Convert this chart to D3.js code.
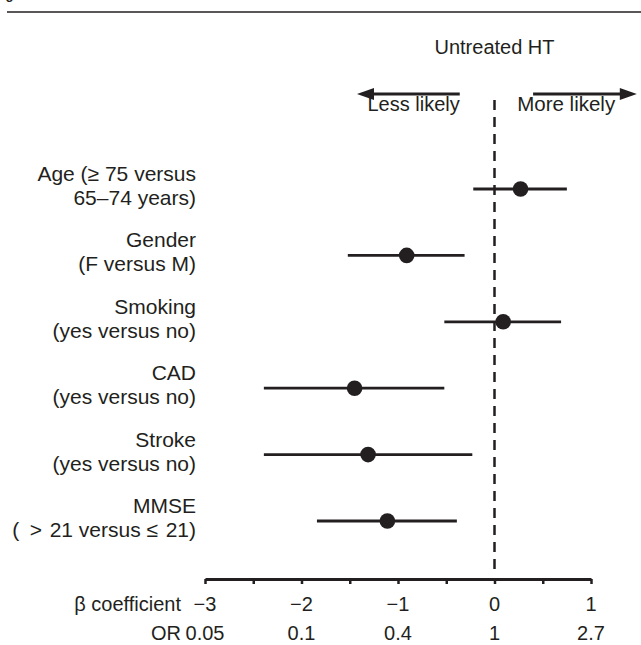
<!DOCTYPE html>
<html>
<head>
<meta http-equiv="Content-type" content="text/html; charset=utf-8">
<title>Untreated HT forest plot</title>
<script src="https://cdn.jsdelivr.net/npm/d3@7/dist/d3.min.js"></script>
<style>
  html, body { margin: 0; padding: 0; background: #fff; }
  svg text { font-family: "Liberation Sans", Arial, sans-serif; fill: #231f20; }
</style>
</head>
<body>
<script type="text/javascript">

// DATA
var labelLine1 = ["Age (\u2265 75 versus", "Gender", "Smoking", "CAD", "Stroke", "MMSE"];
var labelLine2 = ["65\u201374 years)", "(F versus M)", "(yes versus no)", "(yes versus no)", "(yes versus no)", "(\u2002>\u200a 21 versus \u2264\u200a 21)"];
var beta  = [0.27, -0.91, 0.09, -1.45, -1.31, -1.11];
var lower = [-0.22, -1.52, -0.52, -2.39, -2.39, -1.84];
var upper = [0.75, -0.31, 0.69, -0.52, -0.23, -0.39];
var betaTicks = [-3, -2, -1, 0, 1];
var orLabels = ["0.05", "0.1", "0.4", "1", "2.7"];

var W = 641, H = 645;
var ink = "#231f20";

var svg = d3.select("body").append("svg")
  .attr("width", W).attr("height", H);

// SCALES
var x = d3.scaleLinear().domain([-3, 1]).range([205, 591]);
var y = d3.scalePoint().domain(d3.range(beta.length)).range([189, 521]);
var axisY = 579;

// header rule + cut-off caption
svg.append("line")
  .attr("x1", 7).attr("x2", W).attr("y1", 12).attr("y2", 12)
  .attr("stroke", ink).attr("stroke-width", 1.3);
svg.append("text")
  .attr("x", -6).attr("y", -1)
  .style("font-size", "13px").style("font-weight", "bold")
  .text("Fig. 2");

// title + direction arrows
svg.append("text")
  .attr("x", x(0)).attr("y", 54)
  .attr("text-anchor", "middle")
  .style("font-size", "20px")
  .text("Untreated HT");

function arrow(from, to) {
  var x0 = x(from), x1 = x(to), dir = x1 > x0 ? 1 : -1, ay = 94;
  svg.append("line")
    .attr("x1", x0).attr("x2", x1 - dir * 12).attr("y1", ay).attr("y2", ay)
    .attr("stroke", ink).attr("stroke-width", 3);
  svg.append("path")
    .attr("d", "M" + x1 + "," + ay + "L" + (x1 - dir * 17) + "," + (ay - 6) + "L" + (x1 - dir * 17) + "," + (ay + 6) + "Z")
    .attr("fill", ink);
}
arrow(-0.36, -1.425);
arrow(0.40, 1.475);

svg.append("text")
  .attr("x", x(-0.36)).attr("y", 111)
  .attr("text-anchor", "end")
  .style("font-size", "20px")
  .text("Less likely");
svg.append("text")
  .attr("x", x(0.235)).attr("y", 111)
  .attr("text-anchor", "start")
  .style("font-size", "20.5px")
  .text("More likely");

// reference line at beta = 0
svg.append("line")
  .attr("x1", x(0)).attr("x2", x(0)).attr("y1", 100).attr("y2", axisY - 3)
  .attr("stroke", ink).attr("stroke-width", 2.5)
  .attr("stroke-dasharray", "10,7");

// row labels
var rows = svg.selectAll(".row")
  .data(beta.map(function (b, i) { return i; }))
  .enter().append("g").attr("class", "row");

rows.append("text")
  .attr("x", 196).attr("y", function (i) { return y(i) - 8; })
  .attr("text-anchor", "end")
  .style("font-size", "21px")
  .text(function (i) { return labelLine1[i]; });
rows.append("text")
  .attr("x", 196).attr("y", function (i) { return y(i) + 16; })
  .attr("text-anchor", "end")
  .style("font-size", "21px")
  .text(function (i) { return labelLine2[i]; });

// CI lines + points
rows.append("line")
  .attr("x1", function (i) { return x(lower[i]); })
  .attr("x2", function (i) { return x(upper[i]); })
  .attr("y1", function (i) { return y(i); })
  .attr("y2", function (i) { return y(i); })
  .attr("stroke", ink).attr("stroke-width", 2.8);
rows.append("circle")
  .attr("cx", function (i) { return x(beta[i]); })
  .attr("cy", function (i) { return y(i); })
  .attr("r", 7.8)
  .attr("fill", ink);

// AXIS
var axis = d3.axisBottom(x)
  .tickValues(d3.range(-3, 1.01, 0.5))
  .tickSize(5).tickSizeOuter(0)
  .tickFormat("");
var gAxis = svg.append("g")
  .attr("transform", "translate(0," + axisY + ")")
  .call(axis);
gAxis.select(".domain").attr("stroke", ink).attr("stroke-width", 2.8);
gAxis.selectAll(".tick line").attr("stroke", ink).attr("stroke-width", 2.5);

var fmt = d3.format("d");
svg.selectAll(".blabel")
  .data(betaTicks)
  .enter().append("text")
  .attr("class", "blabel")
  .attr("x", function (d) { return x(d); })
  .attr("y", 611)
  .attr("text-anchor", "middle")
  .style("font-size", "20px")
  .text(function (d) { return d < 0 ? "\u2212" + fmt(-d) : fmt(d); });

svg.selectAll(".orlabel")
  .data(orLabels)
  .enter().append("text")
  .attr("class", "orlabel")
  .attr("x", function (d, i) { return x(betaTicks[i]); })
  .attr("y", 640)
  .attr("text-anchor", "middle")
  .style("font-size", "20px")
  .text(function (d) { return d; });

svg.append("text")
  .attr("x", 181).attr("y", 611)
  .attr("text-anchor", "end")
  .style("font-size", "20px")
  .text("\u03b2 coefficient");
svg.append("text")
  .attr("x", 181).attr("y", 640)
  .attr("text-anchor", "end")
  .style("font-size", "20px")
  .text("OR");

</script>
</body>
</html>
